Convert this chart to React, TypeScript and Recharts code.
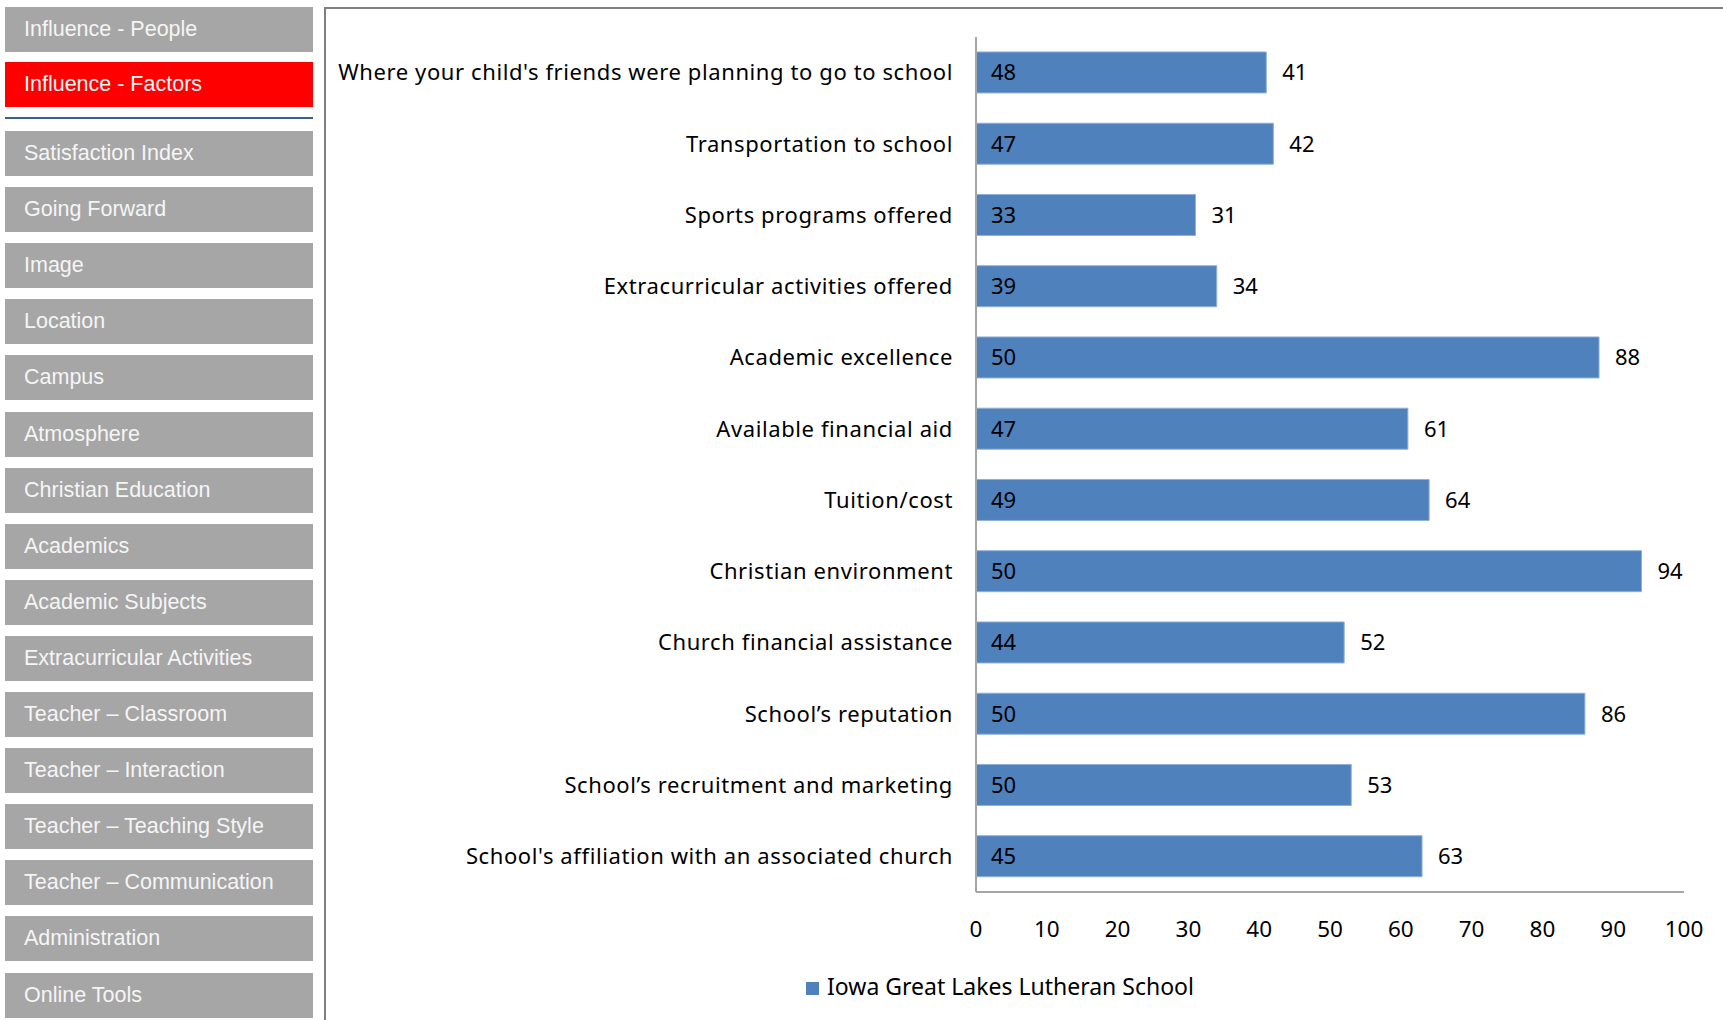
import { BarChart, Bar, XAxis, YAxis, Legend, LabelList } from "recharts"

const menuTop = ["Influence - People", "Influence - Factors"]
const menuItems = [
  "Satisfaction Index",
  "Going Forward",
  "Image",
  "Location",
  "Campus",
  "Atmosphere",
  "Christian Education",
  "Academics",
  "Academic Subjects",
  "Extracurricular Activities",
  "Teacher – Classroom",
  "Teacher – Interaction",
  "Teacher – Teaching Style",
  "Teacher – Communication",
  "Administration",
  "Online Tools",
]
const activeItem = "Influence - Factors"

const factors = [
  "Where your child's friends were planning to go to school",
  "Transportation to school",
  "Sports programs offered",
  "Extracurricular activities offered",
  "Academic excellence",
  "Available financial aid",
  "Tuition/cost",
  "Christian environment",
  "Church financial assistance",
  "School’s reputation",
  "School’s recruitment and marketing",
  "School's affiliation with an associated church",
]
const scores = [41, 42, 31, 34, 88, 61, 64, 94, 52, 86, 53, 63]
const counts = [48, 47, 33, 39, 50, 47, 49, 50, 44, 50, 50, 45]
const xTicks = [0, 10, 20, 30, 40, 50, 60, 70, 80, 90, 100]
const seriesName = "Iowa Great Lakes Lutheran School"

const data = factors.map((name, i) => ({ name, score: scores[i], count: counts[i] }))

const chartFont = "'Noto Sans', sans-serif"

function MenuButton({ label, top }: { label: string; top: number }) {
  return (
    <div
      style={{
        position: "absolute",
        left: 5,
        top,
        width: 308,
        height: 45,
        background: label === activeItem ? "#ff0000" : "#a6a6a6",
        color: "#f5f5f5",
        fontFamily: "'Liberation Sans', Arial, sans-serif",
        fontSize: 21.5,
        lineHeight: "45px",
        paddingLeft: 19,
        boxSizing: "border-box",
        whiteSpace: "nowrap",
      }}
    >
      {label}
    </div>
  )
}

export default function App() {
  return (
    <div style={{ position: "absolute", left: 0, top: 0, width: 1723, height: 1020, background: "#fff", overflow: "hidden" }}>
      {menuTop.map((m, i) => (
        <MenuButton key={m} label={m} top={7 + i * 55} />
      ))}
      <div style={{ position: "absolute", left: 5, top: 117, width: 308, height: 2, background: "#3a5f95" }} />
      {menuItems.map((m, i) => (
        <MenuButton key={m} label={m} top={131 + i * 56.1} />
      ))}
      <div
        style={{
          position: "absolute",
          left: 324,
          top: 7,
          width: 1410,
          height: 1020,
          borderLeft: "2px solid #7f7f7f",
          borderTop: "2px solid #7f7f7f",
          boxSizing: "border-box",
        }}
      />
      <div style={{ position: "absolute", left: 326, top: 7 }}>
        <BarChart
          layout="vertical"
          width={1397}
          height={1013}
          data={data}
          margin={{ top: 30, right: 39, left: 0, bottom: 41 }}
          barCategoryGap="21%"
        >
          <XAxis
            type="number"
            domain={[0, 100]}
            ticks={xTicks}
            interval={0}
            tickLine={false}
            axisLine={{ stroke: "#a6a6a6", strokeWidth: 2 }}
            tick={{ fill: "#000", fontSize: 22.5, fontFamily: chartFont, dy: 21 }}
            height={55}
          />
          <YAxis
            type="category"
            dataKey="name"
            width={650}
            tickLine={false}
            tickMargin={17}
            interval={0}
            axisLine={{ stroke: "#a6a6a6", strokeWidth: 2 }}
            tick={{ fill: "#000", fontSize: 22, fontFamily: chartFont, letterSpacing: 0.6 }}
          />
          <Legend
            verticalAlign="bottom"
            iconType="square"
            iconSize={13}
            wrapperStyle={{ fontFamily: chartFont, fontSize: 23, left: 0, bottom: 18 }}
            formatter={(v) => <span style={{ color: "#000", marginLeft: 4 }}>{v}</span>}
          />
          <Bar dataKey="score" name={seriesName} fill="#4f81bd" stroke="#8fb0d8" strokeWidth={1} isAnimationActive={false}>
            <LabelList dataKey="count" position="insideLeft" offset={15} fill="#000" fontSize={22} fontFamily={chartFont} />
            <LabelList dataKey="score" position="right" offset={16} fill="#000" fontSize={22} fontFamily={chartFont} />
          </Bar>
        </BarChart>
      </div>
    </div>
  )
}
